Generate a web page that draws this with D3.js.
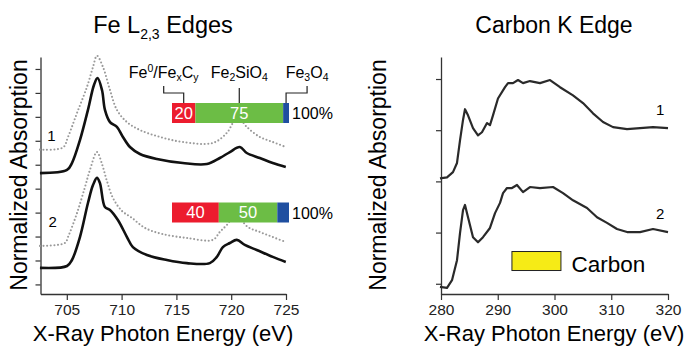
<!DOCTYPE html>
<html>
<head>
<meta charset="utf-8">
<script src="https://cdn.jsdelivr.net/npm/d3@7"></script>
<style>
  body { margin: 0; background: #fff; }
  svg { display: block; font-family: "Liberation Sans", Arial, sans-serif; }
</style>
</head>
<body>
<svg id="chart" width="687" height="346"></svg>
<script>
// Fe L2,3 spectra [energy eV, normalized absorption]
const feSpec1 = [[702.55,4.65],[705.02,4.78],[705.47,5.07],[706.2,6.03],[706.93,7.29],[707.48,8.33],[707.8,8.62],[708.21,8.12],[708.48,7.29],[708.94,6.78],[709.57,6.58],[710.12,6.16],[710.76,5.74],[711.67,5.45],[713.22,5.24],[715.59,5.07],[717.78,5.03],[718.96,5.28],[719.88,5.53],[720.79,5.74],[721.42,5.49],[722.61,5.28],[723.79,5.07],[724.98,4.9]];
const feSpec1Ref = [[702.55,5.63],[704.65,5.72],[705.11,6.16],[705.93,7.16],[706.84,8.25],[707.39,9.08],[707.75,9.55],[708.3,9.08],[708.94,8.12],[709.57,7.29],[710.49,6.78],[711.67,6.45],[713.49,6.16],[715.59,5.95],[718.33,5.91],[719.6,6.33],[720.15,6.74],[720.6,7.0],[721.42,6.58],[722.61,6.16],[723.79,5.95],[724.98,5.74]];
const feSpec2 = [[702.55,0.69],[705.02,0.77],[705.47,1.02],[706.2,1.98],[706.93,3.4],[707.39,4.15],[707.75,4.45],[708.02,4.24],[708.48,3.23],[708.94,3.11],[709.66,2.69],[710.49,1.98],[711.03,1.56],[712.31,1.23],[714.13,1.02],[715.95,0.89],[718.05,0.89],[718.69,1.15],[719.24,1.56],[719.88,1.73],[720.51,1.86],[721.24,1.65],[722.33,1.44],[723.79,1.15],[724.98,0.94]];
const feSpec2Ref = [[702.55,1.61],[704.83,1.73],[705.11,1.98],[705.93,2.98],[706.66,4.07],[707.11,4.78],[707.75,5.53],[708.21,5.03],[708.66,4.32],[709.21,3.61],[710.03,3.07],[710.94,2.78],[712.13,2.36],[713.68,2.11],[715.95,1.94],[718.33,1.86],[718.96,2.19],[719.6,2.48],[720.42,2.9],[721.51,2.4],[722.61,2.19],[723.79,1.98],[724.98,1.77]];

// Carbon K edge spectra
const cSpec1 = [[279.82,2.06],[281.06,2.08],[282.11,2.18],[282.82,2.36],[283.35,2.8],[283.88,3.2],[284.23,3.41],[284.76,3.29],[285.64,3.04],[286.52,2.9],[287.22,2.96],[288.11,3.14],[288.63,3.1],[289.16,3.29],[290.04,3.62],[291.28,3.84],[291.81,3.92],[292.69,3.92],[293.57,3.98],[294.45,3.92],[295.68,3.96],[297.44,3.92],[299.21,3.98],[300.97,3.84],[303.26,3.68],[305.02,3.53],[306.78,3.33],[308.55,3.16],[310.31,3.06],[312.78,3.02],[315.07,3.04],[317.36,3.06],[320.0,3.04]];
const cSpec2 = [[279.82,-0.06],[281.06,-0.08],[281.94,0.07],[282.82,0.46],[283.35,0.99],[283.88,1.44],[284.23,1.54],[284.76,1.3],[285.64,0.91],[286.52,0.81],[287.4,0.91],[288.63,1.09],[289.52,1.38],[290.4,1.58],[290.93,1.77],[291.63,1.87],[292.51,1.87],[293.39,1.93],[294.45,1.79],[295.68,1.89],[297.44,1.87],[299.74,1.89],[301.5,1.77],[303.26,1.63],[305.73,1.48],[307.49,1.3],[309.25,1.19],[311.01,1.07],[312.78,1.01],[315.07,1.01],[317.36,1.07],[320.0,1.01]];

// fit fractions (%) of the Fe phases
const fePhases = ['Fe0/FexCy', 'Fe2SiO4', 'Fe3O4'];
const phaseColors = ['#ec1c2e', '#6cbd45', '#1f4fa0'];
const fit1 = [20, 75, 5];
const fit2 = [40, 50, 10];

const feTicksX = [705, 710, 715, 720, 725];
const feTicksY = [0, 1, 2, 3, 4, 5, 6, 7, 8, 9];
const cTicksX = [280, 290, 300, 310, 320];
const cTicksY = [0, 1, 2, 3, 4];

const svg = d3.select('#chart');

// scales
const xFe = d3.scaleLinear().domain([702.6, 725]).range([40.5, 286]);
const yFe = d3.scaleLinear().domain([-0.4, 9.5]).range([294, 57]);
const xC = d3.scaleLinear().domain([280, 320]).range([441, 668]);
const yC = d3.scaleLinear().domain([-0.2, 4.43]).range([294, 57]);

function drawAxes(x, y, ticksX, ticksY) {
    const gx = svg.append('g')
        .attr('transform', `translate(0,${y.range()[0]})`)
        .call(d3.axisBottom(x).tickValues(ticksX).tickSize(6).tickPadding(4).tickSizeOuter(0));
    const gy = svg.append('g')
        .attr('transform', `translate(${x.range()[0]},0)`)
        .call(d3.axisLeft(y).tickValues(ticksY).tickSize(5).tickFormat('').tickSizeOuter(0));
    [gx, gy].forEach(g => {
        g.select('.domain').attr('stroke', '#333').attr('stroke-width', 1.3);
        g.selectAll('.tick line').attr('stroke', '#333').attr('stroke-width', 1.2);
    });
    gx.selectAll('.tick text')
        .attr('font-size', 15.5)
        .attr('fill', '#222')
        .attr('font-family', '"Liberation Sans", Arial, sans-serif');
}

drawAxes(xFe, yFe, feTicksX, feTicksY);
drawAxes(xC, yC, cTicksX, cTicksY);

// curves
const lineFe = d3.line().x(d => xFe(d[0])).y(d => yFe(d[1])).curve(d3.curveCatmullRom);
const lineC = d3.line().x(d => xC(d[0])).y(d => yC(d[1])).curve(d3.curveLinear);

[feSpec1Ref, feSpec2Ref].forEach(s => {
    svg.append('path').datum(s)
        .attr('d', lineFe)
        .attr('fill', 'none')
        .attr('stroke', '#9a9a9a')
        .attr('stroke-width', 2.1)
        .attr('stroke-linecap', 'round')
        .attr('stroke-dasharray', '0,3.6');
});
[feSpec1, feSpec2].forEach(s => {
    svg.append('path').datum(s)
        .attr('d', lineFe)
        .attr('fill', 'none')
        .attr('stroke', '#111')
        .attr('stroke-width', 2.6)
        .attr('stroke-linejoin', 'round');
});
[cSpec1, cSpec2].forEach(s => {
    svg.append('path').datum(s)
        .attr('d', lineC)
        .attr('fill', 'none')
        .attr('stroke', '#2a2a2a')
        .attr('stroke-width', 2.2)
        .attr('stroke-linejoin', 'round');
});

// spectrum numbers
svg.append('text').attr('x', xFe(703.6)).attr('y', yFe(6.0)).attr('font-size', 15).attr('text-anchor', 'middle').text('1');
svg.append('text').attr('x', xFe(703.7)).attr('y', yFe(2.4)).attr('font-size', 15).attr('text-anchor', 'middle').text('2');
svg.append('text').attr('x', xC(318.6)).attr('y', yC(3.3)).attr('font-size', 15).attr('text-anchor', 'middle').text('1');
svg.append('text').attr('x', xC(318.6)).attr('y', yC(1.26)).attr('font-size', 15).attr('text-anchor', 'middle').text('2');

// stacked composition bars
const xBar = d3.scaleLinear().domain([0, 100]).range([172, 289]);

function drawBar(values, yTop) {
    const stacked = d3.cumsum(values);
    const g = svg.append('g');
    values.forEach((v, i) => {
        const x0 = xBar(stacked[i] - v), x1 = xBar(stacked[i]);
        g.append('rect')
            .attr('x', x0).attr('y', yTop)
            .attr('width', x1 - x0).attr('height', 20)
            .attr('fill', phaseColors[i]);
        if (v >= 15) {
            g.append('text')
                .attr('x', (x0 + x1) / 2).attr('y', yTop + 15.5)
                .attr('text-anchor', 'middle')
                .attr('font-size', 16.5)
                .attr('fill', '#fff')
                .text(v);
        }
    });
    g.append('text')
        .attr('x', xBar(100) + 3).attr('y', yTop + 16)
        .attr('font-size', 16)
        .text(d3.sum(values) + '%');
    return stacked;
}

const stack1 = drawBar(fit1, 103);
drawBar(fit2, 202.5);

// phase labels with brackets above the first bar
const mids = fit1.map((v, i) => xBar(stack1[i] - v / 2));
const labelOffset = [-20, 0, 21];
const labelG = svg.append('g').attr('font-size', 16);

fePhases.forEach((name, i) => {
    const cx = mids[i] + labelOffset[i];
    const path = d3.path();
    path.moveTo(mids[i], 103);
    if (labelOffset[i] === 0) {
        path.lineTo(cx, 88);
    } else {
        path.lineTo(mids[i], 93);
        path.lineTo(cx, 93);
        path.lineTo(cx, 86);
    }
    labelG.append('path').attr('d', path.toString())
        .attr('fill', 'none').attr('stroke', '#222').attr('stroke-width', 1.2);
});

function subLabel(cx, parts) {
    const t = labelG.append('text').attr('x', cx).attr('y', 78).attr('text-anchor', 'middle');
    parts.forEach(p => {
        const s = t.append('tspan').text(p[0]);
        if (p[1] === 'sub') s.attr('font-size', 10.5).attr('dy', 3);
        else if (p[1] === 'sup') s.attr('font-size', 10.5).attr('dy', -6);
        else if (p[1] === 'up') s.attr('dy', -3);
        else if (p[1] === 'down') s.attr('dy', 6);
    });
}
subLabel(mids[0] + labelOffset[0], [['Fe'], ['0', 'sup'], ['/Fe', 'down'], ['x', 'sub'], ['C', 'up'], ['y', 'sub']]);
subLabel(mids[1] + labelOffset[1], [['Fe'], ['2', 'sub'], ['SiO', 'up'], ['4', 'sub']]);
subLabel(mids[2] + labelOffset[2], [['Fe'], ['3', 'sub'], ['O', 'up'], ['4', 'sub']]);

// carbon legend
svg.append('rect')
    .attr('x', xC(292.5)).attr('y', yC(0.63))
    .attr('width', 49).attr('height', 19)
    .attr('fill', '#f6eb16').attr('stroke', '#222').attr('stroke-width', 1);
svg.append('text')
    .attr('x', xC(303)).attr('y', yC(0.23))
    .attr('font-size', 22.5)
    .text('Carbon');

// titles
const t1 = svg.append('text').attr('x', 163).attr('y', 33).attr('text-anchor', 'middle').attr('font-size', 23.5);
t1.append('tspan').text('Fe L');
t1.append('tspan').attr('font-size', 14).attr('dy', 6).text('2,3');
t1.append('tspan').attr('dy', -6).text(' Edges');
svg.append('text').attr('x', 554).attr('y', 33).attr('text-anchor', 'middle').attr('font-size', 23).text('Carbon K Edge');

// axis titles
[[163, 19], [554, 378]].forEach(([cx, ly]) => {
    svg.append('text')
        .attr('x', cx).attr('y', 341)
        .attr('text-anchor', 'middle')
        .attr('font-size', 22)
        .text('X-Ray Photon Energy (eV)');
    svg.append('text')
        .attr('transform', `translate(${ly + 8},175) rotate(-90)`)
        .attr('text-anchor', 'middle')
        .attr('font-size', 23)
        .text('Normalized Absorption');
});
</script>
</body>
</html>
